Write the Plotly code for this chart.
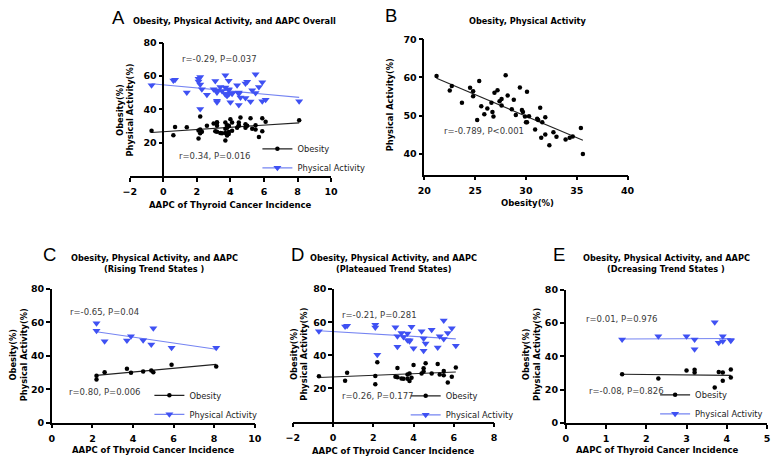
import numpy as np
import plotly.graph_objects as go

W, H = 777, 462

# ---------------- data ----------------
# Panel C: rising trend states
c_aapc = [2.2, 2.2, 2.6, 3.7, 3.9, 4.5, 4.9, 5.0, 5.9, 8.1]
c_obesity = [28.0, 25.8, 30.2, 32.2, 29.9, 30.6, 31.2, 30.2, 34.7, 33.6]
c_activity = [59.5, 55.0, 48.8, 49.2, 51.7, 49.4, 46.8, 56.6, 44.9, 44.9]

# Panel D: plateaued trend states
d_aapc = [-0.7, 0.6, 0.7, 2.1, 2.1, 2.2, 3.1, 3.2, 3.2, 3.4, 3.5, 3.7, 3.7, 3.8, 3.8,
          3.9, 4.0, 4.4, 4.5, 4.5, 4.6, 4.9, 5.2, 5.3, 5.5, 5.5, 5.7, 5.9, 6.1]
d_obesity = [27.3, 24.6, 29.5, 22.6, 27.5, 35.8, 27.0, 32.3, 26.7, 26.0, 25.8, 28.5, 25.9, 29.0, 24.5,
             26.5, 34.2, 29.0, 30.2, 32.2, 35.2, 29.0, 34.8, 28.5, 30.5, 28.0, 23.6, 27.0, 32.6]
d_activity = [54.5, 57.4, 57.8, 58.4, 56.8, 40.3, 57.0, 51.5, 45.2, 53.5, 51.0, 53.2, 49.1, 49.1, 48.5,
              57.2, 44.3, 54.5, 50.2, 42.7, 47.2, 55.5, 44.7, 51.5, 61.0, 49.9, 53.5, 56.3, 45.8]

# Panel E: decreasing trend states
e_aapc = [1.4, 2.3, 3.0, 3.2, 3.2, 3.7, 3.8, 3.9, 3.9, 4.1, 4.1]
e_obesity = [29.3, 26.7, 31.6, 32.0, 30.3, 21.4, 30.6, 30.3, 25.4, 32.2, 27.3]
e_activity = [50.1, 52.1, 52.1, 50.1, 44.3, 60.5, 48.2, 52.1, 49.1, 49.8, 49.4]

# Panel A: all states
a_aapc = c_aapc + d_aapc + e_aapc
a_obesity = c_obesity + d_obesity + e_obesity
a_activity = c_activity + d_activity + e_activity

# Panel B: obesity vs physical activity
b_obesity = [21.2, 22.7, 22.5, 23.7, 24.5, 24.8, 24.8, 25.4, 25.2, 25.6, 25.9, 26.2, 26.6, 26.7, 26.8,
             26.9, 27.2, 27.4, 27.6, 27.6, 28.0, 28.2, 28.8, 28.6, 29.0, 29.4, 29.6, 29.7, 29.9, 30.1,
             30.3, 30.0, 30.1, 31.1, 31.2, 31.4, 30.9, 31.9, 31.6, 31.5, 31.9, 32.3, 32.7, 33.0, 33.9,
             34.3, 34.6, 35.4, 35.6]
b_activity = [60.4, 57.8, 56.6, 53.4, 57.3, 56.4, 55.1, 59.1, 48.9, 52.5, 50.4, 51.9, 53.4, 51.0, 49.8,
              56.0, 56.7, 53.8, 54.4, 52.7, 60.6, 55.3, 54.2, 51.7, 50.2, 57.4, 51.5, 51.0, 49.8, 56.3,
              49.9, 48.3, 48.3, 49.2, 48.9, 52.1, 46.4, 49.6, 48.3, 44.3, 45.1, 42.3, 45.7, 44.5, 43.8,
              44.3, 44.6, 46.8, 40.0]

# text
panel_letters = ["A", "B", "C", "D", "E"]
title_line1 = [
    "Obesity, Physical Activity, and AAPC Overall",
    "Obesity, Physical Activity",
    "Obesity, Physical Activity, and AAPC",
    "Obesity, Physical Activity, and AAPC",
    "Obesity, Physical Activity, and AAPC",
]
title_line2 = ["", "", "(Rising Trend States )", "(Plateaued Trend States)", "(Dcreasing Trend States )"]
stats_activity = ["r=-0.29, P=0.037", "r=-0.65, P=0.04", "r=-0.21, P=0.281", "r=0.01, P=0.976"]
stats_obesity = ["r=0.34, P=0.016", "r=0.80, P=0.006", "r=0.26, P=0.177", "r=-0.08, P=0.826"]
stat_b = "r=-0.789, P<0.001"
xtitle_aapc = "AAPC of Thyroid Cancer Incidence"
ytitle_two = "Obesity(%)<br>Physical Activity(%)"
series_names = ["Obesity", "Physical Activity"]

# ---------------- styling ----------------
FONT = "DejaVu Sans"
BLUE = "#3f51f3"
BLUE_LINE = "#7584f2"
BLACK = "#000000"
TXT = "#3a3a3a"


def fx(px):
    return px / W


def fy(py):
    return 1 - py / H


fig = go.Figure()

axis_common = dict(
    showgrid=False, zeroline=False, showline=True, linecolor="black", linewidth=1.5,
    ticks="outside", ticklen=4, tickwidth=1.5, tickcolor="black",
    tickfont=dict(family=FONT, size=9.5, color="black", weight="bold"),
    fixedrange=True,
)

# panel geometry (pixels)
panels = {
    "A": ("x", "y", (125, 330), (37.5, 174.5), [-2, 10], [0, 80], [-2, 0, 2, 4, 6, 8, 10], [20, 40, 60, 80], 0),
    "B": ("x2", "y2", (425, 632), (34, 172.7), [20, 40], [34.65, 70], [20, 25, 30, 35, 40], [40, 50, 60, 70], None),
    "C": ("x3", "y3", (45.7, 252.3), (290, 426.7), [0, 10], [0, 80], [0, 2, 4, 6, 8, 10], [0, 20, 40, 60, 80], None),
    "D": ("x4", "y4", (291, 496), (290, 425.7), [-2, 8], [0, 80], [-2, 0, 2, 4, 6, 8], [20, 40, 60, 80], 0),
    "E": ("x5", "y5", (569, 774), (290.7, 427.3), [0, 5], [0, 80], [0, 1, 2, 3, 4, 5], [0, 20, 40, 60, 80], None),
}

layout_axes = {}
for key, (xa, ya, xd, yd, xr, yr, xt, yt, ypos) in panels.items():
    xname = "xaxis" + xa[1:]
    yname = "yaxis" + ya[1:]
    layout_axes[xname] = dict(axis_common, domain=[fx(xd[0]), fx(xd[1])], range=xr,
                              tickvals=xt, anchor=ya, ticklabelstandoff=2)
    ydict = dict(axis_common, domain=[fy(yd[1]), fy(yd[0])], range=yr, tickvals=yt)
    if ypos is None:
        ydict["anchor"] = xa
    else:
        frac = (ypos - xr[0]) / (xr[1] - xr[0])
        ydict["anchor"] = "free"
        ydict["position"] = fx(xd[0] + frac * (xd[1] - xd[0]))
    layout_axes[yname] = ydict


def add_scatter_panel(xa, ya, xs, ob, pa):
    xs = np.array(xs, float)
    ob = np.array(ob, float)
    pa = np.array(pa, float)
    xl = np.array([xs.min(), xs.max()])
    for yv, col, lcol, sym, size in ((pa, BLUE, BLUE_LINE, "triangle-down", 7),
                                     (ob, BLACK, "#222222", "circle", 4.5)):
        k, b = np.polyfit(xs, yv, 1)
        fig.add_trace(go.Scatter(x=xl, y=k * xl + b, mode="lines", xaxis=xa, yaxis=ya,
                                 line=dict(color=lcol, width=1.1), showlegend=False, hoverinfo="skip"))
        fig.add_trace(go.Scatter(x=xs, y=yv, mode="markers", xaxis=xa, yaxis=ya,
                                 marker=dict(color=col, symbol=sym, size=size, line=dict(width=0)),
                                 showlegend=False))


add_scatter_panel("x", "y", a_aapc, a_obesity, a_activity)
add_scatter_panel("x3", "y3", c_aapc, c_obesity, c_activity)
add_scatter_panel("x4", "y4", d_aapc, d_obesity, d_activity)
add_scatter_panel("x5", "y5", e_aapc, e_obesity, e_activity)

# Panel B
bx = np.array(b_obesity)
by = np.array(b_activity)
kb, bb = np.polyfit(bx, by, 1)
bl = np.array([bx.min(), bx.max()])
fig.add_trace(go.Scatter(x=bl, y=kb * bl + bb, mode="lines", xaxis="x2", yaxis="y2",
                         line=dict(color="#222222", width=1.1), showlegend=False, hoverinfo="skip"))
fig.add_trace(go.Scatter(x=bx, y=by, mode="markers", xaxis="x2", yaxis="y2",
                         marker=dict(color=BLACK, size=4.5), showlegend=False))

# legends: one per panel, two entries each
legend_rows = [  # (xaxis, yaxis, text start px, first row centre y px)
    ("x", "y", 295, 146.0),
    ("x3", "y3", 185, 398.5),
    ("x4", "y4", 446, 399.0),
    ("x5", "y5", 700, 398.0),
]
legend_layouts = {}
for li, (xa, ya, tx, r1) in enumerate(legend_rows, start=1):
    lname = "legend" if li == 1 else f"legend{li}"
    for name, col, lcol, sym, size in ((series_names[0], BLACK, "#222222", "circle", 4.5),
                                       (series_names[1], BLUE, BLUE_LINE, "triangle-down", 7)):
        fig.add_trace(go.Scatter(x=[None], y=[None], mode="lines+markers", name=name,
                                 xaxis=xa, yaxis=ya, legend=lname,
                                 line=dict(color=lcol, width=1.1),
                                 marker=dict(color=col, symbol=sym, size=size)))
    legend_layouts[lname] = dict(x=fx(tx - 40), y=fy(r1 - 14.5), xanchor="left", yanchor="top",
                                 bgcolor="rgba(0,0,0,0)", borderwidth=0, traceorder="normal",
                                 font=dict(family=FONT, size=8.3, color="#222222"))

ann = []


def text(x, y, s, size=8.5, bold=False, color=TXT, xanchor="center", angle=0, family=FONT):
    ann.append(dict(x=fx(x), y=fy(y), xref="paper", yref="paper", text=s, showarrow=False,
                    xanchor=xanchor, yanchor="middle", textangle=angle,
                    font=dict(family=family, size=size, color=color, weight="bold" if bold else "normal")))


# panel letters
for letter, (x, y) in zip(panel_letters, [(113.5, 11.5), (391.5, 10), (43, 255), (296, 255), (562, 255)]):
    text(x, y, letter, size=18.5, color="black", family="Liberation Sans")

# titles
title_pos = [(232, 15.5, None), (530, 15, None), (149.7, 258.3, 269.3), (394, 258.3, 269.3), (671.5, 258.3, 269.3)]
for t1, t2, (cx, y1, y2) in zip(title_line1, title_line2, title_pos):
    text(cx, y1, t1, size=8.2, bold=True, color="black")
    if t2:
        text(cx, y2, t2, size=8.2, bold=True, color="black")

# stats
stat_pos = [((216.7, 54), (211.7, 154)), ((99, 313.3), (100, 395)),
            ((379.5, 317), (377.5, 400)), ((625.8, 320.7), (630.5, 394.3))]
for sa, so, (pa_pos, ob_pos) in zip(stats_activity, stats_obesity, stat_pos):
    text(pa_pos[0], pa_pos[1], sa)
    text(ob_pos[0], ob_pos[1], so)
text(442.7, 128.3, stat_b, xanchor="left")

# axis titles
for (x, y) in [(227.5, 204), (149, 455), (393.5, 455.5), (662, 455)]:
    text(x, y, xtitle_aapc, size=8.5, bold=True, color="black")
text(530, 202, "Obesity(%)", size=8.5, bold=True, color="black")
text(390, 100.7, "Physical Activity(%)", size=8.3, bold=True, color="black", angle=-90)
for (x, y) in [(120.3, 107), (12.5, 357.5), (297.5, 357), (534, 357)]:
    text(x, y, ytitle_two, size=8.3, bold=True, color="black", angle=-90)

fig.update_layout(
    width=W, height=H, margin=dict(l=0, r=0, t=0, b=0),
    paper_bgcolor="white", plot_bgcolor="white",
    annotations=ann, **layout_axes, **legend_layouts,
)

fig.write_html("out.html", config={"displayModeBar": False},
               post_script="document.body.style.margin='0';document.body.style.overflow='hidden';")
